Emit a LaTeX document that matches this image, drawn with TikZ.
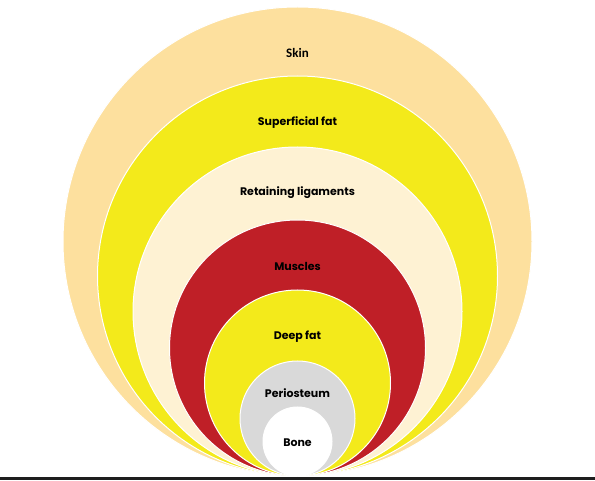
\documentclass[tikz,border=0pt]{standalone}
\usepackage{fontspec}
\setmainfont{Poppins}
\newfontfamily\skinfont{Carlito}
\definecolor{skinc}{HTML}{FDE09E}
\definecolor{fatc}{HTML}{F3EA1B}
\definecolor{ligc}{HTML}{FEF2D3}
\definecolor{musc}{HTML}{BF1F27}
\definecolor{perc}{HTML}{D9D9D9}
\definecolor{bandc}{HTML}{1E1E1E}
\begin{document}
\begin{tikzpicture}[x=1pt,y=1pt,
  layer/.style={fill=#1,draw=white,line width=1pt},
  lbl/.style={font=\fontsize{11}{13}\selectfont\bfseries,text=black,inner sep=0pt}]
\useasboundingbox (0,0) rectangle (595,480);
\fill[white] (0,0) rectangle (595,480);
\fill[bandc] (0,0) rectangle (595,2.8);
\def\cx{297.5}
\foreach \r/\c in {234.5/skinc,200/fatc,164.5/ligc,128/musc,93/fatc,57.5/perc,34.5/white}{
  \draw[layer=\c] (\cx,4+\r) circle[radius=\r];
}
\node[lbl,font=\fontsize{13}{15}\selectfont\skinfont\bfseries] (skin) at (\cx,427) {Skin};
\node[lbl] (supfat) at (\cx,357) {Superficial fat};
\node[lbl] (lig) at (\cx,287) {Retaining ligaments};
\node[lbl] (mus) at (\cx,214) {Muscles};
\node[lbl] (deep) at (\cx,143) {Deep fat};
\node[lbl] (peri) at (\cx,87) {Periosteum};
\node[lbl] (bone) at (\cx,37) {Bone};
\end{tikzpicture}
\end{document}
